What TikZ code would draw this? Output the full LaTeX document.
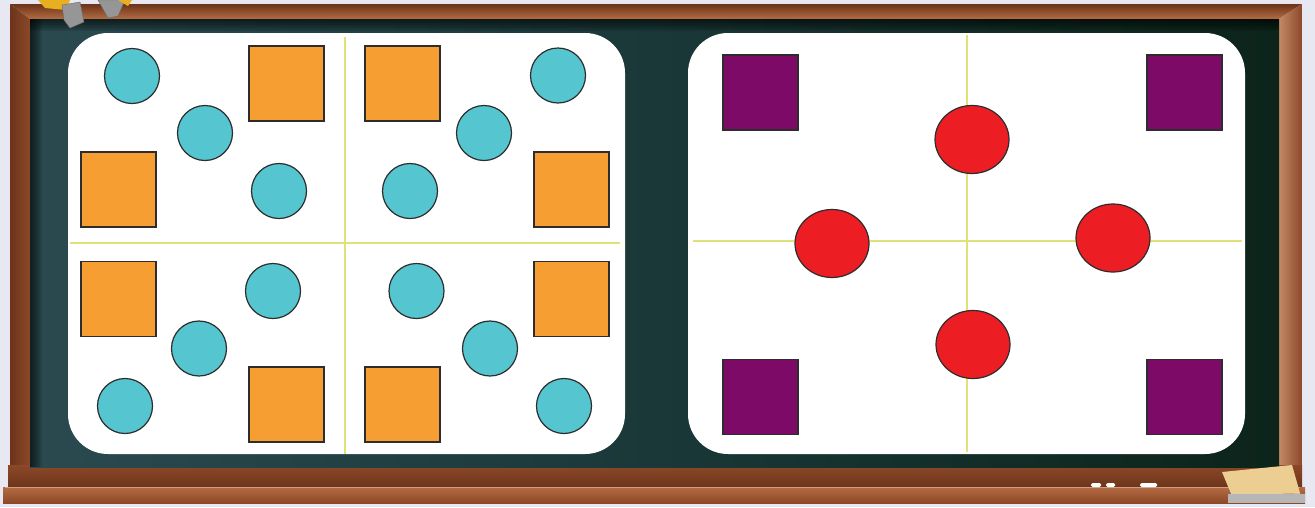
\documentclass[tikz,border=0pt]{standalone}
\usetikzlibrary{shapes.geometric}
\definecolor{bg}{RGB}{232,232,242}
\definecolor{wood}{RGB}{140,72,40}
\definecolor{woodlight}{RGB}{180,108,66}
\definecolor{wooddark}{RGB}{108,52,26}
\definecolor{boardL}{RGB}{42,74,80}
\definecolor{boardM}{RGB}{26,56,56}
\definecolor{boardR}{RGB}{12,36,26}
\definecolor{guide}{RGB}{222,226,120}
\definecolor{cyanC}{RGB}{85,197,207}
\definecolor{orangeS}{RGB}{247,158,51}
\definecolor{purpleS}{RGB}{126,10,104}
\definecolor{redE}{RGB}{237,29,36}
\definecolor{outline}{RGB}{45,45,45}
\definecolor{chalkY}{RGB}{232,176,32}
\definecolor{chalkG}{RGB}{150,150,150}
\definecolor{eraser}{RGB}{236,206,146}
\begin{document}
\begin{tikzpicture}[x=1pt,y=-1pt,
  circ/.style={circle,draw=outline,line width=1.2pt,fill=cyanC,minimum size=55pt,inner sep=0pt},
  sq/.style={rectangle,draw=outline,line width=1.2pt,fill=orangeS,minimum size=75pt,inner sep=0pt},
  psq/.style={sq,fill=purpleS},
  ell/.style={ellipse,draw=outline,line width=1.2pt,fill=redE,minimum width=74pt,minimum height=68pt,inner sep=0pt},
  panel/.style={fill=white,rounded corners=40pt},
  guideline/.style={draw=guide,line width=1.2pt}]
\useasboundingbox (0,0) rectangle (1315,507);
\fill[bg] (0,0) rectangle (1315,507);
% frame
\shade[top color=wooddark,bottom color=woodlight] (10,4) -- (1302,4) -- (1279,19) -- (30,19) -- cycle;
\shade[left color=wooddark,right color=wood] (10,4) -- (30,19) -- (30,467) -- (10,467) -- cycle;
\shade[left color=woodlight!80!white,right color=wood] (1302,4) -- (1279,19) -- (1279,467) -- (1302,467) -- cycle;
% ledge
\shade[top color=wood,bottom color=wooddark] (8,465) rectangle (1302,488);
\shade[top color=woodlight,bottom color=wood] (3,487) rectangle (1305,503);
\draw[white,opacity=0.35,line width=1pt] (5,487) -- (1300,487);
\fill[white,rounded corners=1.5pt] (1091,483) rectangle (1101,487);
\fill[white,rounded corners=1.5pt] (1106,483) rectangle (1115,487);
\fill[white,rounded corners=1.5pt] (1140,483) rectangle (1157,487);
% board
\shade[left color=boardL,right color=boardR,middle color=boardM] (30,19) rectangle (1279,467);
\foreach \i in {1,...,6} \fill[black,opacity=0.12] (30,19) rectangle (1279,19+2*\i);
\foreach \i in {1,...,6} \fill[black,opacity=0.12] (30,19) rectangle (30+2*\i,467);
% chalk holders
\fill[chalkY] (38,0) -- (70,0) -- (66,10) -- (45,8) -- cycle;
\filldraw[fill=chalkG,draw=chalkG!70!black] (62,5) -- (80,2) -- (84,22) -- (70,28) -- (64,20) -- cycle;
\filldraw[fill=chalkG,draw=chalkG!70!black] (98,0) -- (125,0) -- (118,16) -- (108,18) -- cycle;
\fill[chalkY] (118,0) -- (132,0) -- (128,6) -- cycle;
% eraser
\fill[eraser] (1222,472) -- (1292,465) -- (1300,493) -- (1232,496) -- cycle;
\fill[eraser!80!brown] (1232,496) -- (1300,493) -- (1300,498) -- (1234,500) -- cycle;
\fill[chalkG!70!white] (1228,494) rectangle (1305,503);
% panels
\fill[panel] (68,33) rectangle (625,454);
\fill[panel] (688,33) rectangle (1245,454);
% guides
\draw[guideline] (345,37) -- (345,454);
\draw[guideline] (70,243) -- (620,243);
\draw[guideline] (967,35) -- (967,452);
\draw[guideline] (693,241) -- (1242,241);
% left panel shapes
\node[circ] (a1) at (132,76) {};
\node[circ] (a2) at (205,133) {};
\node[circ] (a3) at (279,191) {};
\node[sq] (a4) at (286.5,83.5) {};
\node[sq] (a5) at (118.5,189.5) {};
\node[sq] (b1) at (402.5,83.5) {};
\node[circ] (b2) at (558,75.5) {};
\node[circ] (b3) at (484,133) {};
\node[circ] (b4) at (410,191) {};
\node[sq] (b5) at (571.5,189.5) {};
\node[sq] (c1) at (118.5,299) {};
\node[circ] (c2) at (273,291) {};
\node[circ] (c3) at (199,348.5) {};
\node[circ] (c4) at (125,406) {};
\node[sq] (c5) at (286.5,404.5) {};
\node[circ] (d1) at (416.5,291) {};
\node[circ] (d2) at (490,348.5) {};
\node[sq] (d3) at (571.5,299) {};
\node[sq] (d4) at (402.5,404.5) {};
\node[circ] (d5) at (564,406) {};
% right panel shapes
\node[psq] (p1) at (760.5,92.5) {};
\node[psq] (p2) at (1184.5,92.5) {};
\node[psq] (p3) at (760.5,397) {};
\node[psq] (p4) at (1184.5,397) {};
\node[ell] (e1) at (972,139.5) {};
\node[ell] (e2) at (832,243.5) {};
\node[ell] (e3) at (1113,238) {};
\node[ell] (e4) at (973,344.5) {};
\end{tikzpicture}
\end{document}
